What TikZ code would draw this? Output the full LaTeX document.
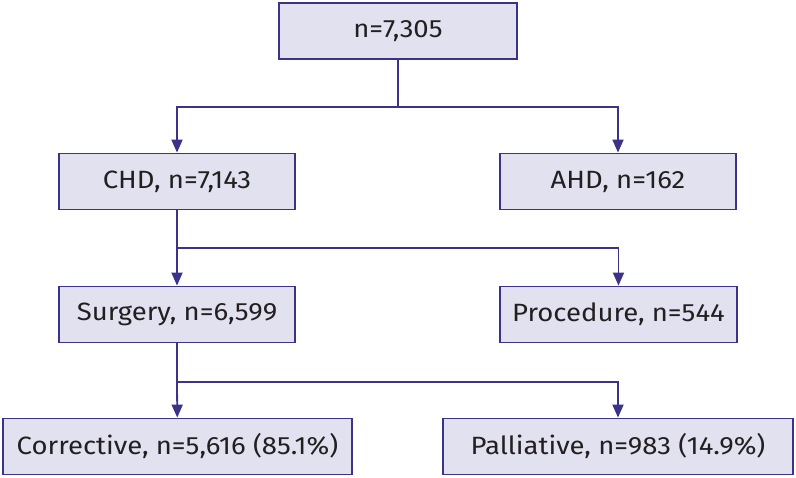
\documentclass[tikz,border=0pt]{standalone}
\usepackage{fontspec}
\setmainfont{Fira Sans}[FakeStretch=1.1]
\usepackage{tikz}
\usetikzlibrary{arrows.meta}

\definecolor{boxline}{HTML}{3A3388}
\definecolor{boxfill}{HTML}{E1E1EF}
\definecolor{boxtext}{HTML}{231F20}

\tikzset{
    stagebox/.style={draw=boxline, fill=boxfill, line width=1.8pt, inner sep=0pt,
        minimum height=56pt, text=boxtext, font=\fontsize{25}{30}\selectfont},
    link/.style={draw=boxline, line width=1.8pt},
    linkarrow/.style={link, -{Triangle[length=13pt, width=11pt]}}
}

\begin{document}
\begin{tikzpicture}[x=1pt, y=-1pt]
        \useasboundingbox (0, 0) rectangle (796, 478);

        \node [stagebox, minimum width=238pt] (total) at (398, 31) {n=7,305};
        \node [stagebox, minimum width=236pt] (chd) at (177, 181.5) {CHD, n=7,143};
        \node [stagebox, minimum width=236pt] (ahd) at (618, 181.5) {AHD, n=162};
        \node [stagebox, minimum width=236pt] (surgery) at (177, 314.5) {Surgery, n=6,599};
        \node [stagebox, minimum width=237pt] (procedure) at (618.5, 314.5) {Procedure, n=544};
        \node [stagebox, minimum width=349pt] (corrective) at (177.5, 446.5) {Corrective, n=5,616 (85.1\%)};
        \node [stagebox, minimum width=350pt] (palliative) at (618, 446.5) {Palliative, n=983 (14.9\%)};

        % branch points
        \coordinate (split1) at (398, 107);
        \coordinate (split2) at (177, 248);
        \coordinate (split3) at (177, 382);

        \draw [link] (total) to (split1);
        \draw [linkarrow] (split1) -| (chd);
        \draw [linkarrow] (split1) -| (ahd);

        \draw [link] (chd) to (split2);
        \draw [linkarrow] (split2) to (surgery);
        \draw [linkarrow] (split2) -| (procedure);

        \draw [link] (surgery) to (split3);
        \draw [linkarrow] (split3) to (corrective);
        \draw [linkarrow] (split3) -| (palliative);
    \end{tikzpicture}
\end{document}
